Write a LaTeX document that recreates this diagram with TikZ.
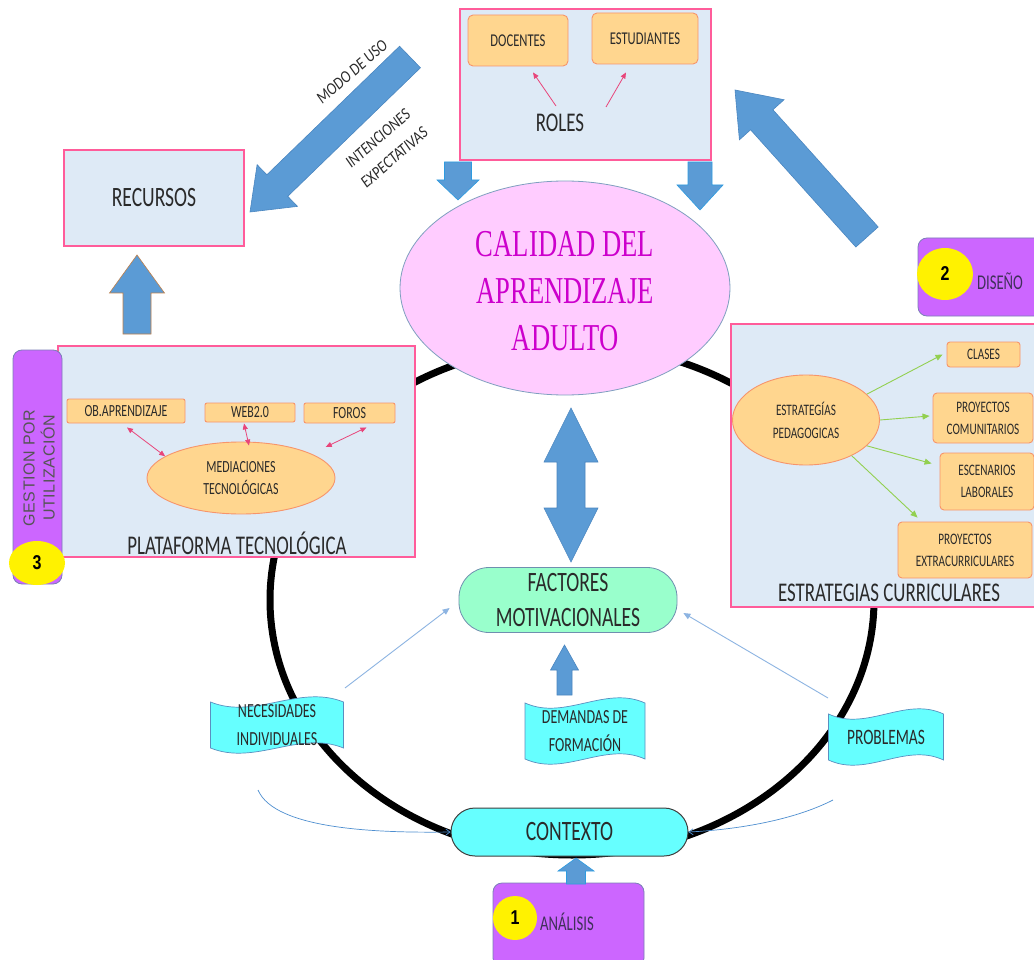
\documentclass[tikz,border=0pt]{standalone}
\usepackage{fontspec}
\setmainfont{Carlito}[FakeStretch=0.7]
\newfontfamily\calfont{Liberation Serif}[FakeStretch=0.7]
\newfontfamily\gesfont{Liberation Sans}[LetterSpace=4]
\newfontfamily\numfont{Liberation Sans}[FakeStretch=0.8]
\newfontfamily\itfont{Carlito}[FakeStretch=0.85]
\usetikzlibrary{calc,arrows.meta,shapes.geometric}

\definecolor{panelF}{HTML}{DEEAF6}
\definecolor{panelD}{HTML}{FF5C9A}
\definecolor{orF}{HTML}{FFD68F}
\definecolor{orD}{HTML}{F7946B}
\definecolor{blueA}{HTML}{5B9BD5}
\definecolor{blueAD}{HTML}{4A86C0}
\definecolor{blueAC}{HTML}{2E9BE0}
\definecolor{brownD}{HTML}{C0804A}
\definecolor{purp}{HTML}{CC66FF}
\definecolor{purpD}{HTML}{7A7FB8}
\definecolor{purpT}{HTML}{40305A}
\definecolor{yel}{HTML}{FFF200}
\definecolor{cyanF}{HTML}{66FFFF}
\definecolor{banD}{HTML}{5A8FC0}
\definecolor{mint}{HTML}{99FFCC}
\definecolor{facD}{HTML}{6F8FAF}
\definecolor{pinkE}{HTML}{FFCCFF}
\definecolor{calD}{HTML}{7F9FBF}
\definecolor{magT}{HTML}{CC00CC}
\definecolor{txt}{HTML}{2A2A2A}
\definecolor{gesT}{HTML}{555555}
\definecolor{pinkA}{HTML}{E8457A}
\definecolor{greenA}{HTML}{92D050}
\definecolor{thinB}{HTML}{8DB4E2}
\definecolor{thinC}{HTML}{4F8FD0}

\tikzset{
 panel/.style={draw=panelD, fill=panelF, line width=1.3pt, inner sep=0pt},
 obox/.style={draw=orD, fill=orF, line width=0.9pt, rounded corners=5pt, inner sep=0pt, align=center, text=txt},
 oell/.style={ellipse, draw=orD, fill=orF, line width=0.9pt, inner sep=0pt, align=center, text=txt},
 lbl/.style={text=txt, inner sep=1pt, align=center},
 purpbox/.style={fill=purp, draw=purpD, line width=0.8pt, rounded corners=9pt, inner sep=0pt},
 ycirc/.style={ellipse, fill=yel, inner sep=0pt, text=black, font=\numfont\bfseries\fontsize{20}{24}\selectfont},
 blockA/.style={fill=blueA, draw=blueAD, line width=0.6pt},
 pinkarrow/.style={draw=pinkA, line width=0.8pt, -{Triangle[length=6pt,width=5pt]}},
 pinkdbl/.style={draw=pinkA, line width=0.8pt, {Triangle[length=6pt,width=5pt]}-{Triangle[length=6pt,width=5pt]}},
 greenarrow/.style={draw=greenA, line width=0.9pt, -{Triangle[length=7pt,width=6pt]}},
 thinA/.style={draw=thinB, line width=0.9pt, -{Triangle[length=7pt,width=6pt]}},
 thinCurve/.style={draw=thinC, line width=0.7pt, -{Straight Barb[length=4pt,width=6pt]}},
 bannerF/.style={fill=cyanF, draw=banD, line width=0.7pt},
 bannerT/.style={text=txt, inner sep=0pt, align=center, font=\fontsize{20}{28}\selectfont},
}

\newcommand\blockarrow[6]{%
  \coordinate (ba-h) at ($(#3)!#6!(#2)$);
  \path[#1] ($(#2)!#4!90:(#3)$) -- ($(ba-h)!#4!90:(#3)$) -- ($(ba-h)!#5!90:(#3)$) -- (#3)
    -- ($(ba-h)!#5!-90:(#3)$) -- ($(ba-h)!#4!-90:(#3)$) -- ($(#2)!#4!-90:(#3)$) -- cycle;}

\newcommand\dblockarrow[6]{%
  \coordinate (dba-a) at ($(#2)!#6!(#3)$);
  \coordinate (dba-b) at ($(#3)!#6!(#2)$);
  \path[#1] (#2) -- ($(dba-a)!#5!90:(#3)$) -- ($(dba-a)!#4!90:(#3)$) -- ($(dba-b)!#4!90:(#3)$)
    -- ($(dba-b)!#5!90:(#3)$) -- (#3) -- ($(dba-b)!#5!-90:(#3)$) -- ($(dba-b)!#4!-90:(#3)$)
    -- ($(dba-a)!#4!-90:(#3)$) -- ($(dba-a)!#5!-90:(#3)$) -- cycle;}

\newcommand\banner[7]{%
  \path[bannerF] ({#2-#4/2},{#3-#5/2}) .. controls ({#2-#4/6},{#3-#5/2+18}) and ({#2+#4/6},{#3-#5/2-18}) .. ({#2+#4/2},{#3-#5/2})
   -- ({#2+#4/2},{#3+#5/2}) .. controls ({#2+#4/6},{#3+#5/2-18}) and ({#2-#4/6},{#3+#5/2+18}) .. ({#2-#4/2},{#3+#5/2}) -- cycle;
  \node[bannerT,#7] (#1) at (#2,#3) {#6};}

\begin{document}
\begin{tikzpicture}[x=1pt,y=-1pt]
\clip (0,0) rectangle (1034,960);
\fill[white] (0,0) rectangle (1034,960);

% black ring
\draw[line width=7pt] (572,600) ellipse [x radius=302, y radius=255];

% ROLES
\node[panel, minimum width=251, minimum height=151] (rolesbox) at (585.5,84.5) {};
\node[obox, minimum width=100, minimum height=51, font=\fontsize{18}{22}\selectfont] (docentes) at (518,40.5) {DOCENTES};
\node[obox, minimum width=106, minimum height=51, font=\fontsize{18}{22}\selectfont] (estudiantes) at (645,38.5) {ESTUDIANTES};
\node[lbl, font=\fontsize{27}{32}\selectfont] (roles) at (560,123) {ROLES};
\coordinate (rl) at (556,106);
\coordinate (rr) at (606,107);
\draw[pinkarrow] (rl) -- ($(docentes.south)+(15,6)$);
\draw[pinkarrow] (rr) -- ($(estudiantes.south)+(-19,8)$);

% CALIDAD
\node[ellipse, draw=calD, fill=pinkE, line width=0.8pt, minimum width=330, minimum height=214, inner sep=0pt] (calidad) at (565,288) {};
\node[font=\calfont\fontsize{38}{47}\selectfont, text=magT, align=center, inner sep=0pt] (calidadT) at (565,291) {CALIDAD DEL\\APRENDIZAJE\\ADULTO};

% arrows ROLES -> CALIDAD
\coordinate (da1) at (458,162); \coordinate (da1t) at (458,200);
\blockarrow{blockA,draw=blueAC}{da1}{da1t}{13.5pt}{21pt}{20pt}
\coordinate (da2) at (700,162); \coordinate (da2t) at (700,210);
\blockarrow{blockA,draw=blueAC}{da2}{da2t}{12pt}{23pt}{25pt}

% RECURSOS
\node[panel, minimum width=180, minimum height=96, font=\fontsize{28}{32}\selectfont, text=txt] (recursos) at (154,198) {RECURSOS};
\coordinate (d1s) at (410,57); \coordinate (d1t) at (250,212);
\blockarrow{blockA}{d1s}{d1t}{15pt}{29pt}{38pt}
\node[lbl, rotate=41, font=\itfont\itshape\fontsize{17}{20}\selectfont] (modo) at (352,72) {MODO DE USO};
\node[lbl, rotate=41, font=\itfont\itshape\fontsize{17}{25}\selectfont] (intenc) at (386,148) {INTENCIONES\\EXPECTATIVAS};

% PLATAFORMA
\node[panel, minimum width=357, minimum height=211] (plat) at (236.5,451.5) {};
\node[purpbox, minimum width=49, minimum height=234] (gestion) at (37.5,467) {};
\node[rotate=90, font=\gesfont\fontsize{16}{20}\selectfont, text=gesT, align=center, inner sep=0pt] (gestT) at (39,468) {GESTION POR\\UTILIZACIÓN};
\node[ycirc, minimum width=56, minimum height=44] (n3) at (37,563) {3};
\node[obox, rounded corners=2pt, minimum width=118, minimum height=24, font=\fontsize{17}{20}\selectfont] (obap) at (126,411) {OB.APRENDIZAJE};
\node[obox, rounded corners=2pt, minimum width=90, minimum height=19, font=\fontsize{17}{20}\selectfont] (web) at (250,412.5) {WEB2.0};
\node[obox, rounded corners=2pt, minimum width=91, minimum height=20, font=\fontsize{17}{20}\selectfont] (foros) at (349.5,413) {FOROS};
\node[oell, minimum width=188, minimum height=72, font=\fontsize{17}{22}\selectfont] (medi) at (241,478) {MEDIACIONES\\TECNOLÓGICAS};
\node[lbl, font=\fontsize{27}{30}\selectfont] (platT) at (237,543) {PLATAFORMA TECNOLÓGICA};
\draw[pinkdbl] ($(obap.south)+(1,4)$) -- (medi.164);
\draw[pinkdbl] ($(web.south)+(-6,1)$) -- ($(medi.north)+(8,4)$);
\draw[pinkdbl] ($(foros.south)+(17,4)$) -- ($(medi.20)+(16,-6)$);
\coordinate (ua1) at (137,334); \coordinate (ua1t) at (137,255);
\blockarrow{blockA,draw=brownD}{ua1}{ua1t}{14pt}{27.5pt}{38pt}

% DISENO
\node[purpbox, minimum width=130, minimum height=78] (diseno) at (983,277) {};
\node[ycirc, minimum width=56, minimum height=52] (n2) at (945,274) {2};
\node[lbl, text=purpT, font=\fontsize{21}{24}\selectfont] (disT) at (1000,281) {DISEÑO};
\coordinate (d2s) at (867,237); \coordinate (d2t) at (735,90);
\blockarrow{blockA}{d2s}{d2t}{15pt}{30pt}{40pt}

% ESTRATEGIAS
\node[panel, minimum width=310, minimum height=283] (estr) at (886,465.5) {};
\node[oell, minimum width=147, minimum height=90, font=\fontsize{16}{23}\selectfont] (estped) at (806,420) {ESTRATEGÍAS\\PEDAGOGICAS};
\node[obox, rounded corners=3pt, minimum width=73, minimum height=25, font=\fontsize{16}{22}\selectfont] (clases) at (983.5,354.5) {CLASES};
\node[obox, rounded corners=4pt, minimum width=100, minimum height=50, font=\fontsize{16}{22}\selectfont] (pcom) at (983,418) {PROYECTOS\\COMUNITARIOS};
\node[obox, rounded corners=4pt, minimum width=94, minimum height=57, font=\fontsize{16}{22}\selectfont] (escen) at (987,481.5) {ESCENARIOS\\LABORALES};
\node[obox, rounded corners=4pt, minimum width=134, minimum height=56, font=\fontsize{16}{22}\selectfont] (pextra) at (965,550) {PROYECTOS\\EXTRACURRICULARES};
\node[lbl, font=\fontsize{27}{30}\selectfont] (estrT) at (889,593) {ESTRATEGIAS CURRICULARES};
\draw[greenarrow] (estped.23) -- ($(clases.west)+(-4,0)$);
\draw[greenarrow] (estped.east) -- ($(pcom.west)+(-3,-2)$);
\draw[greenarrow] (estped.-23) -- ($(escen.west)+(-8,-18)$);
\draw[greenarrow] (estped.-38) -- ($(pextra.north west)+(20,-4)$);

% central double arrow
\coordinate (dbA) at (571,408); \coordinate (dbB) at (571,562);
\dblockarrow{blockA}{dbA}{dbB}{14pt}{27pt}{54pt}

% FACTORES
\node[draw=facD, fill=mint, line width=0.8pt, rounded corners=30pt, minimum width=218, minimum height=65, inner sep=0pt, font=\fontsize{28}{35}\selectfont, align=center, text=txt] (factores) at (568,600) {FACTORES\\MOTIVACIONALES};

% banners
\banner{neces}{277}{725}{133}{46}{NECESIDADES\\INDIVIDUALES}{}
\banner{deman}{585}{731}{120}{56}{DEMANDAS DE\\FORMACIÓN}{}
\banner{probl}{886}{737}{115}{46}{PROBLEMAS}{font=\fontsize{22}{26}\selectfont}

\coordinate (ua2) at (564.5,695); \coordinate (ua2t) at (564.5,645);
\blockarrow{blockA}{ua2}{ua2t}{7.5pt}{14pt}{25pt}
\coordinate (na) at (345,688);
\draw[thinA] (na) -- ($(factores.west)+(-9,8)$);
\coordinate (pa) at (828,698);
\draw[thinA] (pa) -- ($(factores.east)+(6,13)$);

% CONTEXTO
\node[draw=black!75, fill=cyanF, line width=1pt, rounded corners=24pt, minimum width=237, minimum height=48, inner sep=0pt, font=\fontsize{28}{32}\selectfont, text=txt] (contexto) at (569.5,832) {CONTEXTO};
\coordinate (cl) at (258,790);
\draw[thinCurve] (cl) .. controls (275,830) and (380,833) .. (contexto.west);
\coordinate (cr) at (833,800);
\draw[thinCurve] (cr) .. controls (790,822) and (730,830) .. (contexto.east);

% ANALISIS
\node[purpbox, minimum width=151, minimum height=84] (analisis) at (568.5,925) {};
\node[ycirc, minimum width=44, minimum height=44] (n1) at (515,918) {1};
\node[lbl, text=purpT, font=\fontsize{21}{24}\selectfont] (analT) at (567,922) {ANÁLISIS};
\coordinate (ua3) at (576,884); \coordinate (ua3t) at (576,858);
\blockarrow{blockA,draw=blueAC}{ua3}{ua3t}{9.5pt}{18pt}{13pt}
\end{tikzpicture}
\end{document}
